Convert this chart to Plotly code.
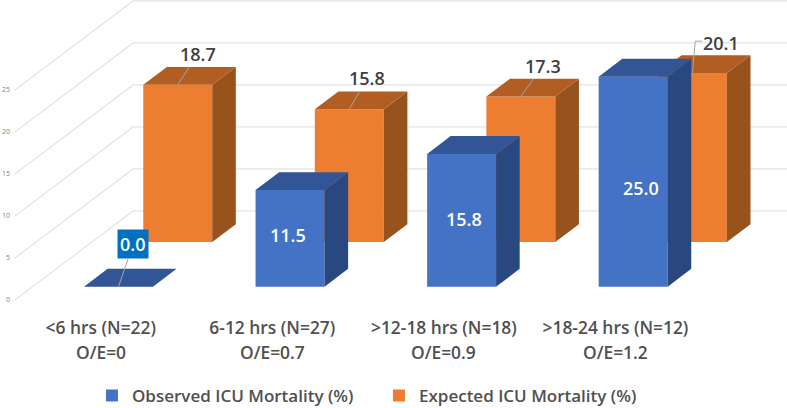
import plotly.graph_objects as go

CATEGORIES = ["<6 hrs (N=22)", "6-12 hrs (N=27)", ">12-18 hrs (N=18)", ">18-24 hrs (N=12)"]
OE_LABELS = ["O/E=0", "O/E=0.7", "O/E=0.9", "O/E=1.2"]
OBSERVED = [0.0, 11.5, 15.8, 25.0]
EXPECTED = [18.7, 15.8, 17.3, 20.1]
Y_TICKS = [0, 5, 10, 15, 20, 25]

BLUE = ["#4472C4", "#2A4880", "#325695"]
ORANGE = ["#ED7D31", "#98531C", "#B25E22"]
FONT = "Open Sans"
TEXT = "#404040"
AXIS_TEXT = "#505050"
GRID = "#E4E4E4"

# oblique projection of the 3d chart: full floor depth in axis units
DEPTH_X = 0.688
DEPTH_Y = 10.6
BAR_W = 0.402
BAR_D = 0.2
BLUE_Z = 0.15
ORANGE_Z = 0.652
idx = list(range(len(CATEGORIES)))


def faces(values, z):
    cx = DEPTH_X * z
    cy = DEPTH_Y * z
    dx = DEPTH_X * BAR_D
    dy = DEPTH_Y * BAR_D
    side_x, side_y, top_x, top_y = [], [], [], []
    for i, v in zip(idx, values):
        l = i + cx - BAR_W / 2
        r = i + cx + BAR_W / 2
        side_x += [r, r + dx, r + dx, r, None]
        side_y += [cy, cy + dy, cy + v + dy, cy + v, None]
        top_x += [l, r, r + dx, l + dx, None]
        top_y += [cy + v, cy + v, cy + v + dy, cy + v + dy, None]
    return side_x, side_y, top_x, top_y


def add_series(fig, name, values, z, colors, order):
    side_x, side_y, top_x, top_y = faces(values, z)
    fig.add_trace(go.Bar(
        x=[i + DEPTH_X * z for i in idx], y=values, base=DEPTH_Y * z,
        width=BAR_W, name=name, marker=dict(color=colors[0], line_width=0),
        zorder=order
    ))
    for xs, ys, c in [(side_x, side_y, colors[1]), (top_x, top_y, colors[2])]:
        fig.add_trace(go.Scatter(
            x=xs, y=ys, mode="lines", fill="toself", fillcolor=c,
            line=dict(width=0, color=c), showlegend=False, zorder=order
        ))


fig = go.Figure()

# floor and back wall gridlines
grid_x, grid_y = [], []
for t in Y_TICKS:
    grid_x += [-0.5, -0.5 + DEPTH_X, 4, None]
    grid_y += [t, t + DEPTH_Y, t + DEPTH_Y, None]
fig.add_trace(go.Scatter(x=grid_x, y=grid_y, mode="lines",
                         line=dict(color=GRID, width=1.2), showlegend=False, zorder=0))

add_series(fig, "Observed ICU Mortality (%)", OBSERVED, BLUE_Z, BLUE, 2)
add_series(fig, "Expected ICU Mortality (%)", EXPECTED, ORANGE_Z, ORANGE, 1)

label_font = dict(family=FONT, size=18, color=TEXT, weight=600)
white_font = dict(family=FONT, size=18, color="white", weight=600)
axis_font = dict(family=FONT, size=17.4, color=AXIS_TEXT, weight=600)

# expected labels with leader lines
leader_ax = [20, 18, 22]
for i, v in zip(idx, EXPECTED):
    x = i + DEPTH_X * ORANGE_Z
    y = v + DEPTH_Y * ORANGE_Z
    if i == 3:
        # last label is pushed aside with an elbow leader
        fig.add_trace(go.Scatter(
            x=[x, x + 0.017, x + 0.058], y=[y, y + 3.8, y + 3.8], mode="lines",
            line=dict(color="#A6A6A6", width=1), showlegend=False, zorder=3
        ))
        fig.add_annotation(x=x, y=y, text=f"{v:.1f}", showarrow=False,
                           xshift=29, yshift=30, font=label_font)
    else:
        fig.add_annotation(x=x, y=y, text=f"{v:.1f}", showarrow=True, arrowhead=0,
                           arrowwidth=1, arrowcolor="#A6A6A6", ax=leader_ax[i], ay=-31,
                           font=label_font)

# observed labels
label_dy = [0, 3, 1, -6]
label_dx = [0, -2, 2, 8]
for i, v, dx, dy in zip(idx, OBSERVED, label_dx, label_dy):
    x = i + DEPTH_X * BLUE_Z
    y = DEPTH_Y * BLUE_Z + v / 2
    if v == 0:
        fig.add_annotation(x=x, y=y, text=f"{v:.1f}", showarrow=True, arrowhead=0,
                           arrowwidth=1, arrowcolor="#A6A6A6", ax=15, ay=-43,
                           font=white_font, bgcolor="#0070C0", borderpad=2)
    else:
        fig.add_annotation(x=x, y=y, text=f"{v:.1f}", showarrow=False,
                           xshift=dx, yshift=dy, font=white_font)

# second line of the category labels sits lower than a <br> would put it
for i, t in zip(idx, OE_LABELS):
    fig.add_annotation(x=i, y=-0.114, yref="paper", yanchor="middle", text=t,
                       showarrow=False, font=axis_font)

fig.update_layout(
    width=787, height=408,
    margin=dict(l=15, r=0, t=0, b=92, autoexpand=False),
    paper_bgcolor="white", plot_bgcolor="white",
    barmode="overlay",
    showlegend=True,
    legend=dict(orientation="h", x=0.0997, y=-0.196, xanchor="left", yanchor="top",
                font=dict(family=FONT, size=17, color=AXIS_TEXT, weight=600),
                entrywidth=242, entrywidthmode="pixels", traceorder="normal"),
    xaxis=dict(range=[-0.5, 4], tickvals=idx, ticktext=CATEGORIES, showgrid=False,
               zeroline=False, showline=False, ticks="", automargin=False,
               tickfont=axis_font),
    yaxis=dict(range=[-1.905, 35.714], tickvals=Y_TICKS, showgrid=False, zeroline=False,
               showline=False, ticks="", ticklen=0, automargin=False, ticklabelstandoff=4,
               tickfont=dict(family=FONT, size=7, color="#7F7F7F")),
)
# the page's default body margin would push the fixed-size figure off the window
fig.write_html("out.html", config={"displayModeBar": False},
               post_script="document.body.style.margin='0';")
